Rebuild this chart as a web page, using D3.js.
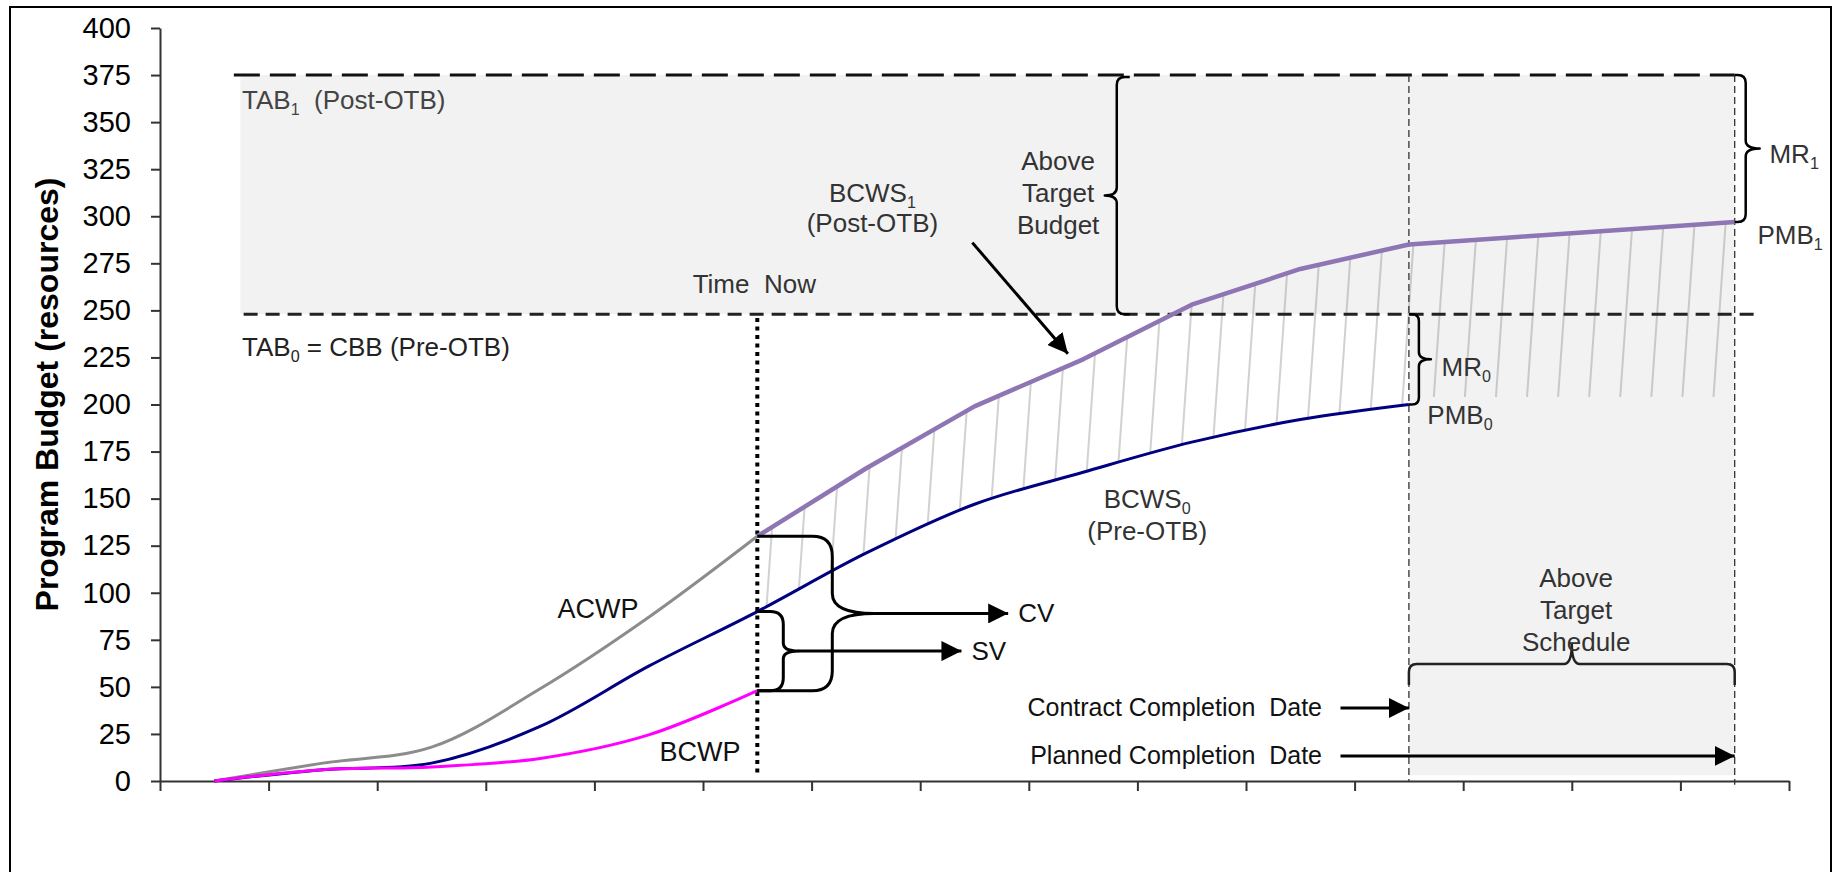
<!DOCTYPE html>
<html><head><meta charset="utf-8">
<script src="https://cdn.jsdelivr.net/npm/d3@7"></script>
<style>
html,body{margin:0;padding:0;background:#fff;}
svg{display:block;font-family:"Liberation Sans",Arial,sans-serif;}
text{white-space:pre;}
</style></head><body>
<svg id="chart" width="1837" height="872"></svg>
<script>
// ---------------- data ----------------
const periods = d3.range(0, 15).map(i => i + 0.5);      // plotted period centres
const xTickValues = d3.range(0, 16);                     // x-axis tick marks (unlabelled)
const yTickValues = d3.range(0, 401, 25);                // y-axis tick labels
const acwp  = [0, 9.5, 18, 49, 87, 130];                 // periods 0.5 .. 5.5
const bcwp  = [0, 6, 7.5, 12, 24.5, 48];                 // periods 0.5 .. 5.5
const bcws0 = [0, 6, 9.5, 29, 61, 90, 121, 147, 164, 180, 192, 200]; // 0.5 .. 11.5
const bcws1 = [130, 166, 199, 224, 253, 272, 285, 289, 293, 297];    // 5.5 .. 14.5
const TAB1 = 375, TAB0 = 248;
const timeNow = 5.5, contractDate = 11.5, plannedDate = 14.5;
const hatchFloor = 204;
const budgetStart = 0.74;

// ---------------- setup ----------------
const svg = d3.select('#chart');
const x = d3.scaleLinear().domain([0, 15]).range([160, 1789]);
const y = d3.scaleLinear().domain([0, 400]).range([781, 28]);
const pts = (arr, start) => arr.map((v, i) => [periods[i + start], v]);
const acwpPts = pts(acwp, 0), bcwpPts = pts(bcwp, 0), bcws0Pts = pts(bcws0, 0), bcws1Pts = pts(bcws1, 5);

const smooth = d3.line().x(d => x(d[0])).y(d => y(d[1])).curve(d3.curveCatmullRom.alpha(0.5));
const straight = d3.line().x(d => x(d[0])).y(d => y(d[1]));

const defs = svg.append('defs');
defs.append('pattern').attr('id', 'hatch').attr('patternUnits', 'userSpaceOnUse')
  .attr('width', 31).attr('height', 31).attr('patternTransform', 'rotate(4)')
  .append('path').attr('d', 'M1,0V31').attr('stroke', '#7a7a7a').attr('stroke-width', 0.7);
defs.append('marker').attr('id', 'arrow').attr('viewBox', '0 0 10 10')
  .attr('refX', 10).attr('refY', 5).attr('markerUnits', 'userSpaceOnUse')
  .attr('markerWidth', 20).attr('markerHeight', 20).attr('orient', 'auto')
  .append('path').attr('d', 'M0,0L10,5L0,10Z').attr('fill', '#000');

// outer frame
svg.append('rect').attr('x', 10).attr('y', 7).attr('width', 1821).attr('height', 880)
  .attr('fill', 'none').attr('stroke', '#000').attr('stroke-width', 2);

// ---------------- shaded regions ----------------
svg.append('rect').attr('x', x(budgetStart)).attr('y', y(TAB1))
  .attr('width', x(plannedDate) - x(budgetStart)).attr('height', y(TAB0) - y(TAB1)).attr('fill', '#f2f2f2');
svg.append('rect').attr('x', x(contractDate)).attr('y', y(TAB0))
  .attr('width', x(plannedDate) - x(contractDate)).attr('height', y(3) - y(TAB0)).attr('fill', '#f2f2f2');

// hatch between BCWS1 and BCWS0 / floor
const navySub = bcws0Pts.filter(d => d[0] >= timeNow).reverse();
const hatchD = straight(bcws1Pts) +
  `L${x(plannedDate)},${y(hatchFloor)}L${x(contractDate)},${y(hatchFloor)}` +
  smooth(navySub).replace(/^M/, 'L') + 'Z';
svg.append('path').attr('d', hatchD).attr('fill', 'url(#hatch)');

// ---------------- axes ----------------
const yAxis = svg.append('g').attr('transform', `translate(${x(0)},0)`)
  .call(d3.axisLeft(y).tickValues(yTickValues).tickSize(9).tickSizeOuter(0).tickPadding(20));
yAxis.selectAll('text').attr('font-size', 29).attr('fill', '#000')
  .attr('font-family', '"Liberation Sans",Arial,sans-serif');
const xAxis = svg.append('g').attr('transform', `translate(0,${y(0)})`)
  .call(d3.axisBottom(x).tickValues(xTickValues).tickSize(10).tickSizeOuter(0).tickFormat(''));
[yAxis, xAxis].forEach(a => {
  a.select('.domain').attr('stroke', '#333').attr('stroke-width', 2);
  a.selectAll('.tick line').attr('stroke', '#333').attr('stroke-width', 2);
});

svg.append('text').attr('transform', `translate(58,${(y(0) + y(400)) / 2 - 10}) rotate(-90)`)
  .attr('text-anchor', 'middle').attr('font-weight', 'bold').attr('font-size', 32)
  .attr('fill', '#000').text('Program Budget (resources)');

// ---------------- reference lines ----------------
svg.append('line').attr('x1', x(0.68)).attr('x2', x(plannedDate)).attr('y1', y(TAB1)).attr('y2', y(TAB1))
  .attr('stroke', '#111').attr('stroke-width', 3).attr('stroke-dasharray', '26,10');
svg.append('line').attr('x1', x(0.77)).attr('x2', x(14.71)).attr('y1', y(TAB0)).attr('y2', y(TAB0))
  .attr('stroke', '#222').attr('stroke-width', 3).attr('stroke-dasharray', '14,8');
svg.append('line').attr('x1', x(timeNow)).attr('x2', x(timeNow)).attr('y1', y(246)).attr('y2', y(3))
  .attr('stroke', '#000').attr('stroke-width', 4).attr('stroke-dasharray', '4,4.5');
[contractDate, plannedDate].forEach(d => {
  svg.append('line').attr('x1', x(d)).attr('x2', x(d)).attr('y1', y(TAB1)).attr('y2', y(d === plannedDate ? -2 : 0))
    .attr('stroke', '#333').attr('stroke-width', 1.3).attr('stroke-dasharray', '7,4');
});

// ---------------- series ----------------
svg.append('path').attr('d', smooth(acwpPts)).attr('fill', 'none').attr('stroke', '#8c8c8c').attr('stroke-width', 3);
svg.append('path').attr('d', smooth(bcws0Pts)).attr('fill', 'none').attr('stroke', '#000080').attr('stroke-width', 3);
svg.append('path').attr('d', smooth(bcwpPts)).attr('fill', 'none').attr('stroke', '#ff00ff').attr('stroke-width', 3);
svg.append('path').attr('d', straight(bcws1Pts)).attr('fill', 'none').attr('stroke', '#8e75b3').attr('stroke-width', 4.5)
  .attr('stroke-linejoin', 'round');

// ---------------- braces ----------------
function brace(L, a, c, r, k, map) {
  const P = (u, v) => map(u, v).join(',');
  return `M${P(0, 0)}L${P(0, a - r)}Q${P(0, a)} ${P(r, a)}L${P(L / 2 - k, a)}Q${P(L / 2, a)} ${P(L / 2, a + c)}` +
    `Q${P(L / 2, a)} ${P(L / 2 + k, a)}L${P(L - r, a)}Q${P(L, a)} ${P(L, a - r)}L${P(L, 0)}`;
}
function vBrace(x0, v1, v2, a, c, r, k, dir, w) {
  const y1 = y(v1), y2 = y(v2);
  svg.append('path').attr('d', brace(y2 - y1, a, c, r, k, (u, v) => [x0 + dir * v, y1 + u]))
    .attr('fill', 'none').attr('stroke', '#000').attr('stroke-width', w || 2.5).attr('stroke-linejoin', 'round');
}
const tn = timeNow;
vBrace(x(tn), acwp[5], bcwp[5], 75, 42, 20, 20, 1, 3);          // CV
vBrace(x(tn), bcws0[5], bcwp[5], 26, 15, 13, 8, 1, 3);          // SV
vBrace(x(plannedDate), TAB1, bcws1[9], 11, 14, 8, 8, 1, 2.5);    // MR1
vBrace(x(contractDate), TAB0, bcws0[11], 10, 12, 7, 7, 1, 2.5);  // MR0
vBrace(x(8.81) + 13, TAB1 - 1, TAB0, 13, 12, 8, 8, -1, 2.5);     // Above target budget
// schedule brace (horizontal, pointing up)
(function () {
  const x1 = x(contractDate), x2 = x(plannedDate), y0 = y(51);
  svg.append('path').attr('d', brace(x2 - x1, 21, 20, 8, 8, (u, v) => [x1 + u, y0 - v]))
    .attr('fill', 'none').attr('stroke', '#222').attr('stroke-width', 2.5);
})();

// ---------------- arrows ----------------
function arrow(u1, v1, u2, v2, dx1) {
  svg.append('line').attr('x1', x(u1) + (dx1 || 0)).attr('y1', y(v1)).attr('x2', x(u2)).attr('y2', y(v2))
    .attr('stroke', '#000').attr('stroke-width', 3).attr('marker-end', 'url(#arrow)');
}
const cvMid = (acwp[5] + bcwp[5]) / 2, svMid = (bcws0[5] + bcwp[5]) / 2;
arrow(tn, cvMid, 7.81, cvMid, 117);
arrow(tn, svMid, 7.38, svMid, 41);
arrow(7.48, 286, 8.36, 227);
arrow(10.87, 38.8, contractDate, 38.8);
arrow(10.87, 13.3, plannedDate, 13.3);

// ---------------- labels ----------------
function label(u, v, parts, anchor, opts) {
  opts = opts || {};
  const size = opts.size || 26;
  const t = svg.append('text').attr('x', x(u) + (opts.dx || 0)).attr('y', y(v))
    .attr('text-anchor', anchor || 'start').attr('font-size', size)
    .attr('fill', opts.color || '#333');
  let shift = 0;
  parts.forEach(p => {
    if (Array.isArray(p)) {
      t.append('tspan').attr('font-size', size * 0.62).attr('dy', 6 - shift).text(p[0]);
      shift = 6;
    } else {
      const s = t.append('tspan').text(p);
      if (shift) { s.attr('dy', -shift); shift = 0; }
    }
  });
  return t;
}
label(0.755, 357, ['TAB', ['1'], '  (Post-OTB)'], 'start', {color: '#444'});
label(0.755, 225.8, ['TAB', ['0'], ' = CBB (Pre-OTB)'], 'start', {color: '#222'});
label(tn, 259.2, ['Time  Now'], 'middle', {dx: -3});
label(6.56, 307.6, ['BCWS', ['1']], 'middle');
label(6.56, 291.6, ['(Post-OTB)'], 'middle');
label(8.27, 324.6, ['Above'], 'middle');
label(8.27, 307.6, ['Target'], 'middle');
label(8.27, 290.6, ['Budget'], 'middle');
label(14.82, 328.3, ['MR', ['1']], 'start');
label(14.71, 285.3, ['PMB', ['1']], 'start');
label(11.8, 215, ['MR', ['0']], 'start');
label(11.67, 189.6, ['PMB', ['0']], 'start');
label(9.09, 145, ['BCWS', ['0']], 'middle');
label(9.09, 128, ['(Pre-OTB)'], 'middle');
label(3.66, 86.6, ['ACWP'], 'start', {color: '#111', size: 27});
label(4.6, 10.6, ['BCWP'], 'start', {color: '#111', size: 27});
label(7.81, cvMid - 4.5, ['CV'], 'start', {dx: 10, color: '#111'});
label(7.38, svMid - 4.5, ['SV'], 'start', {dx: 10, color: '#111'});
label(10.7, 34.5, ['Contract Completion  Date'], 'end', {color: '#111', size: 25});
label(10.7, 9, ['Planned Completion  Date'], 'end', {color: '#111', size: 25});
label(13.04, 103, ['Above'], 'middle');
label(13.04, 86, ['Target'], 'middle');
label(13.04, 69, ['Schedule'], 'middle');
</script>
</body></html>
